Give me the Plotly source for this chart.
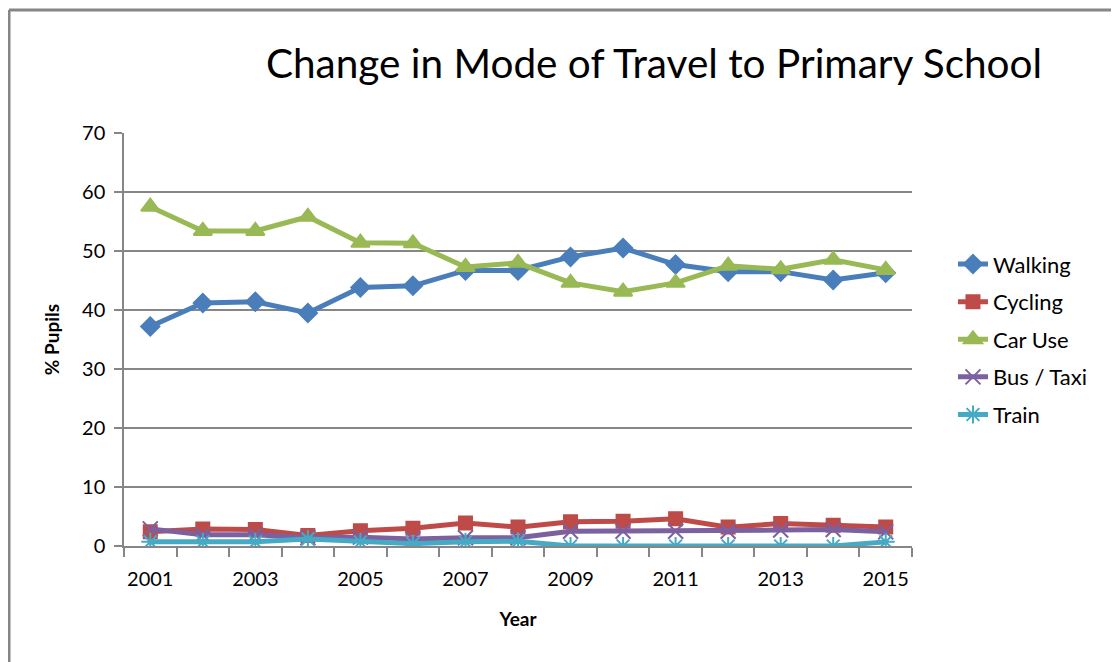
import plotly.graph_objects as go

years = list(range(2001, 2016))
walking = [37.2, 41.2, 41.4, 39.5, 43.8, 44.1, 46.7, 46.7, 49.0, 50.5, 47.7, 46.5, 46.5, 45.1, 46.3]
cycling = [2.4, 2.9, 2.8, 1.8, 2.6, 3.0, 3.9, 3.2, 4.1, 4.2, 4.6, 3.2, 3.8, 3.5, 3.2]
car_use = [57.5, 53.4, 53.4, 55.8, 51.4, 51.3, 47.3, 48.0, 44.6, 43.1, 44.6, 47.5, 46.9, 48.5, 46.8]
bus_taxi = [2.9, 1.9, 1.9, 1.4, 1.5, 1.2, 1.4, 1.4, 2.5, 2.5, 2.5, 2.5, 2.7, 2.8, 2.4]
train = [0.7, 0.7, 0.7, 1.2, 0.7, 0.4, 0.7, 0.8, 0.0, 0.0, 0.0, 0.0, 0.0, 0.0, 0.7]

tick_years = [2001, 2003, 2005, 2007, 2009, 2011, 2013, 2015]
y_ticks = [0, 10, 20, 30, 40, 50, 60, 70]

series = [
    ("Walking", walking, "#4A7EBB", "diamond", 14),
    ("Cycling", cycling, "#BE4B48", "square", 13),
    ("Car Use", car_use, "#98B954", "triangle-up", 16),
    ("Bus / Taxi", bus_taxi, "#7D60A0", "x-thin", 15),
    ("Train", train, "#46AAC5", "asterisk", 15),
]

fig = go.Figure()
for i, (name, vals, color, sym, size) in enumerate(series):
    fig.add_trace(go.Scatter(
        x=years, y=vals, name=name, mode="lines+markers",
        legendgroup=f"g{i}",
        line=dict(color=color, width=5),
        marker=dict(symbol=sym, size=size, color=color,
                    line=dict(color=color, width=2)),
    ))

font = "Lato, 'Open Sans', sans-serif"
# page body has an 8px margin; figure is sized/positioned to compensate
W, H = 1111, 654
fig.update_layout(
    width=W, height=H,
    margin=dict(l=116, r=W - 116 - 788, t=125, b=H - 125 - 413),
    paper_bgcolor="white", plot_bgcolor="white",
    font=dict(family=font, color="black", size=16),
    title=dict(text="Change in Mode of Travel to Primary School",
               x=646 / W, xanchor="center", y=1 - 56 / H, yanchor="middle",
               font=dict(size=40.5, family=font, color="black")),
    showlegend=True,
    legend=dict(x=1.052, xanchor="left", y=0.733, yanchor="top",
                tracegroupgap=6, font=dict(size=22, family=font),
                bgcolor="rgba(0,0,0,0)"),
    xaxis=dict(range=[2000.5, 2015.5], tickmode="array", tickvals=tick_years,
               ticktext=[str(y) for y in tick_years], ticks="", showgrid=False,
               showline=True, linecolor="#868686", linewidth=1.5, zeroline=False,
               tickfont=dict(size=20, family=font), ticklabelstandoff=14,
               minor=dict(tickmode="array",
                          tickvals=[y + 0.5 for y in range(2000, 2016)],
                          ticks="outside", ticklen=9, tickcolor="#868686",
                          tickwidth=1.5, showgrid=False),
               title=dict(text="<b>Year</b>", font=dict(size=19, family=font),
                          standoff=24)),
    yaxis=dict(range=[0, 70], tickmode="array", tickvals=y_ticks,
               ticks="outside", ticklen=8, tickcolor="#868686", tickwidth=1.5,
               showgrid=True, gridcolor="#868686", gridwidth=1.5,
               showline=True, linecolor="#868686", linewidth=1.5, zeroline=False,
               tickfont=dict(size=20, family=font), ticklabelstandoff=5,
               title=dict(text="<b>% Pupils</b>", font=dict(size=19, family=font),
                          standoff=17)),
)

# outer chart frame (left and top edges visible)
fx = (1 - 116) / 788
fy = (125 - 2) / 413 + 1
fig.add_shape(type="line", xref="paper", yref="paper",
              x0=fx, x1=fx, y0=fy, y1=-0.6,
              line=dict(color="#868686", width=3))
fig.add_shape(type="line", xref="paper", yref="paper",
              x0=fx, x1=(W - 116) / 788, y0=fy, y1=fy,
              line=dict(color="#868686", width=3))

fig.write_html("out.html")
